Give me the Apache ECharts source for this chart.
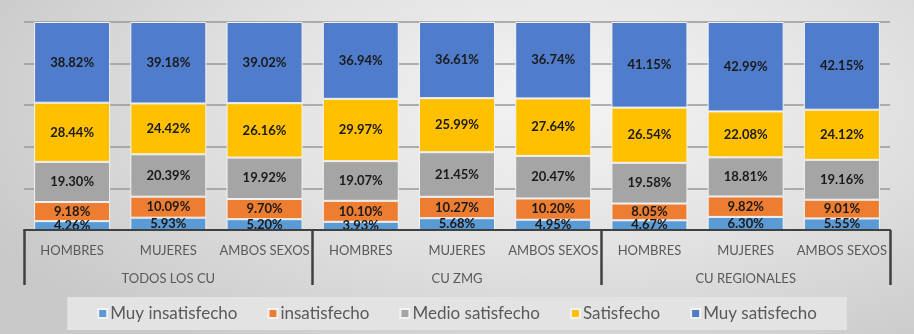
<!DOCTYPE html>
<html>
<head>
<meta charset="utf-8">
<script src="https://cdn.jsdelivr.net/npm/echarts@6/dist/echarts.min.js"></script>
<style>
  html, body { margin: 0; padding: 0; }
  #chart {
    width: 914px;
    height: 334px;
    background: radial-gradient(ellipse 70% 90% at 62% 30%, #f4f4f4 0%, #e2e2e2 50%, #c9c9c9 100%);
  }
</style>
</head>
<body>
<div id="chart"></div>
<script>
// Categories
const categories = ['HOMBRES', 'MUJERES', 'AMBOS SEXOS', 'HOMBRES', 'MUJERES', 'AMBOS SEXOS', 'HOMBRES', 'MUJERES', 'AMBOS SEXOS']
const groups = ['TODOS LOS CU', 'CU ZMG', 'CU REGIONALES']

// Series values (%)
const muyInsatisfecho = [4.26, 5.93, 5.20, 3.93, 5.68, 4.95, 4.67, 6.30, 5.55]
const insatisfecho = [9.18, 10.09, 9.70, 10.10, 10.27, 10.20, 8.05, 9.82, 9.01]
const medioSatisfecho = [19.30, 20.39, 19.92, 19.07, 21.45, 20.47, 19.58, 18.81, 19.16]
const satisfecho = [28.44, 24.42, 26.16, 29.97, 25.99, 27.64, 26.54, 22.08, 24.12]
const muySatisfecho = [38.82, 39.18, 39.02, 36.94, 36.61, 36.74, 41.15, 42.99, 42.15]

const seriesNames = ['Muy insatisfecho', 'insatisfecho', 'Medio satisfecho', 'Satisfecho', 'Muy satisfecho']
const seriesData = [muyInsatisfecho, insatisfecho, medioSatisfecho, satisfecho, muySatisfecho]
const colors = ['#5b9bd5', '#ed7d31', '#a5a5a5', '#ffc000', '#4f7ccb']

const chart = echarts.init(document.getElementById('chart'))

chart.setOption({
  animation: false,
  color: colors,
  grid: {
    left: 24,
    right: 24,
    top: 22,
    bottom: 104,
  },
  legend: {
    bottom: 4,
    left: 'center',
    data: seriesNames,
    icon: 'rect',
    itemWidth: 9,
    itemHeight: 9,
    itemGap: 30,
    padding: [8, 30],
    backgroundColor: '#e3e3e3',
    textStyle: {
      color: '#595959',
      fontSize: 17,
      fontFamily: 'Lato',
      padding: [0, 0, 0, -2],
    },
  },
  xAxis: [{
    type: 'category',
    data: categories,
    axisLine: {
      lineStyle: { color: '#404040', width: 2 },
    },
    axisTick: { show: false },
    axisLabel: {
      interval: 0,
      margin: 14,
      color: '#595959',
      fontSize: 13,
      fontFamily: 'Lato',
    },
    z: 10,
  }, {
    type: 'category',
    data: groups,
    position: 'bottom',
    axisLine: { show: false },
    axisTick: {
      show: true,
      length: 55,
      interval: 0,
      lineStyle: { color: '#404040', width: 2.5 },
    },
    axisLabel: {
      interval: 0,
      margin: 42,
      color: '#595959',
      fontSize: 13,
      fontFamily: 'Lato',
    },
  }],
  yAxis: {
    type: 'value',
    min: 0,
    max: 100,
    interval: 20,
    axisLine: { show: false },
    axisTick: { show: false },
    axisLabel: { show: false },
    splitLine: {
      lineStyle: { color: '#999999', width: 1.5 },
    },
  },
  series: seriesData.map((data, i) => ({
    name: seriesNames[i],
    type: 'bar',
    stack: 'total',
    barCategoryGap: '21%',
    data,
    itemStyle: {
      borderColor: '#f2f2f2',
      borderWidth: 1,
    },
    label: {
      show: true,
      position: 'inside',
      formatter: (p) => p.value.toFixed(2) + '%',
      color: '#1a1a1a',
      fontSize: 13,
      fontWeight: 'bold',
      fontFamily: 'Lato',
    },
  })),
})
</script>
</body>
</html>
